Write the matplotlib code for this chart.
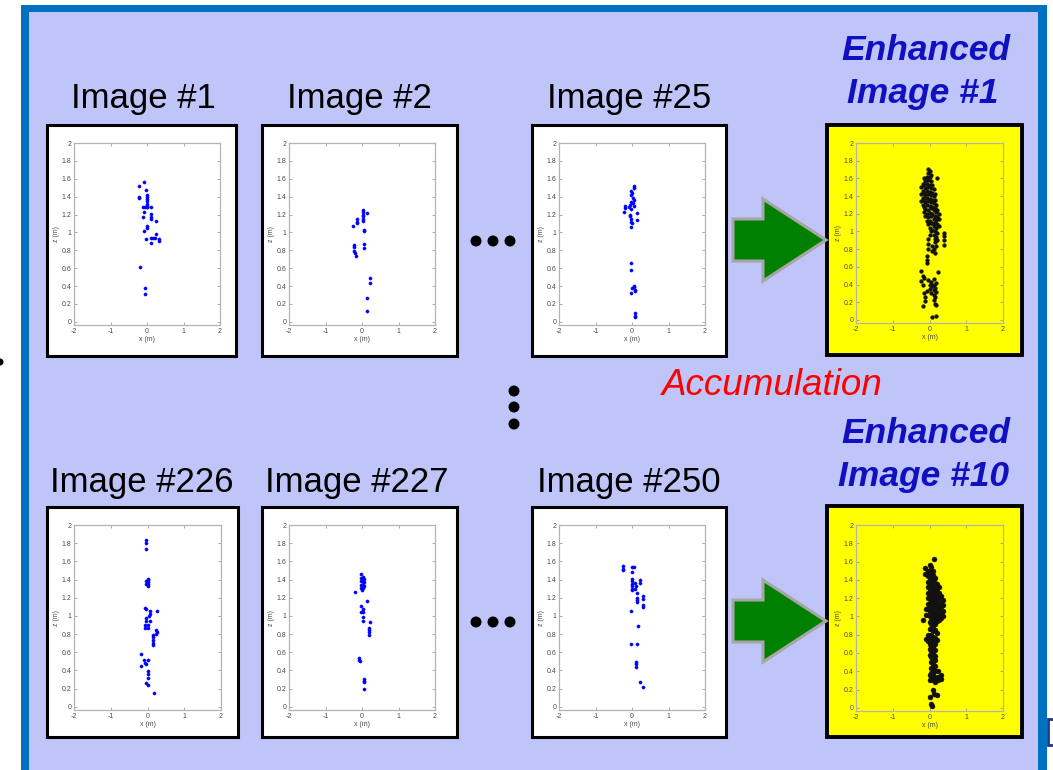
import numpy as np
import matplotlib
matplotlib.use("Agg")
import matplotlib.pyplot as plt
from matplotlib.patches import Rectangle, Polygon, Circle

# ---------------------------------------------------------------------------
# Point clouds (x, z) in metres for each single radar image
# ---------------------------------------------------------------------------
IMG1 = [(-0.22, 1.52), (-0.08, 1.56), (-0.03, 1.48), (-0.23, 1.40), (-0.22, 1.38),
        (0.00, 1.42), (0.00, 1.40), (0.00, 1.37), (0.01, 1.35), (0.00, 1.32),
        (0.00, 1.30), (0.00, 1.28), (-0.10, 1.28), (-0.06, 1.28), (0.01, 1.28),
        (0.10, 1.28), (-0.08, 1.23), (0.10, 1.21), (0.10, 1.17), (0.10, 1.15),
        (-0.10, 1.17), (0.26, 1.13), (0.00, 1.07), (0.00, 1.05), (-0.09, 1.02),
        (0.26, 0.98), (0.10, 0.94), (0.17, 0.94), (0.22, 0.94), (0.32, 0.93),
        (0.33, 0.90), (-0.03, 0.93), (0.11, 0.88), (-0.19, 0.61), (-0.06, 0.38),
        (-0.06, 0.31)]

IMG2 = [(0.04, 1.25), (0.04, 1.23), (0.04, 1.20), (0.04, 1.18), (0.04, 1.15),
        (0.04, 1.13), (0.15, 1.22), (-0.15, 1.15), (-0.15, 1.12), (-0.14, 1.10),
        (-0.24, 1.07), (0.06, 1.03), (0.06, 1.02), (-0.21, 0.86), (-0.21, 0.84),
        (-0.21, 0.79), (-0.19, 0.77), (-0.17, 0.74), (0.06, 0.87), (0.06, 0.83),
        (0.22, 0.49), (0.22, 0.44), (0.13, 0.27), (0.15, 0.12)]

IMG25 = [(0.05, 1.52), (0.05, 1.50), (-0.03, 1.46), (0.00, 1.44), (-0.03, 1.42),
         (0.03, 1.38), (0.06, 1.36), (0.03, 1.33), (0.05, 1.30), (-0.04, 1.34),
         (-0.06, 1.31), (-0.08, 1.28), (-0.03, 1.26), (-0.20, 1.30), (-0.20, 1.27),
         (-0.21, 1.23), (-0.05, 1.20), (-0.05, 1.18), (-0.03, 1.15), (-0.03, 1.12),
         (-0.01, 1.10), (-0.03, 1.06), (0.15, 1.22), (0.15, 1.14), (-0.04, 0.66),
         (-0.04, 0.58), (-0.01, 0.38), (0.05, 0.40), (0.08, 0.36), (-0.03, 0.32),
         (0.08, 0.34), (0.06, 0.39), (0.07, 0.10), (0.08, 0.07), (0.08, 0.05)]

IMG226 = [(-0.04, 1.83), (-0.04, 1.80), (-0.04, 1.74), (0.01, 1.41), (0.01, 1.39),
          (0.01, 1.37), (0.01, 1.35), (0.01, 1.33), (-0.03, 1.38), (-0.03, 1.35),
          (-0.07, 1.09), (-0.05, 1.08), (0.06, 1.05), (0.06, 1.02), (0.03, 1.00),
          (0.25, 1.05), (-0.03, 0.98), (-0.05, 0.94), (-0.06, 0.90), (-0.06, 0.87),
          (0.01, 0.90), (0.01, 0.87), (0.06, 0.94), (0.22, 0.84), (0.25, 0.82),
          (0.22, 0.80), (0.16, 0.79), (0.16, 0.77), (0.15, 0.73), (0.15, 0.70),
          (0.15, 0.68), (-0.19, 0.58), (-0.10, 0.51), (0.01, 0.51), (-0.03, 0.47),
          (-0.17, 0.45), (-0.08, 0.48), (0.00, 0.39), (0.00, 0.36), (0.00, 0.32),
          (-0.03, 0.26), (0.00, 0.24), (0.17, 0.15)]

IMG227 = [(-0.04, 1.46), (-0.04, 1.42), (-0.04, 1.38), (-0.04, 1.34), (-0.04, 1.31),
          (0.02, 1.43), (0.02, 1.39), (0.02, 1.35), (0.02, 1.31), (0.05, 1.41),
          (0.05, 1.37), (0.05, 1.33), (-0.01, 1.29), (-0.18, 1.26), (0.15, 1.16),
          (-0.04, 1.11), (0.02, 1.08), (-0.04, 1.04), (0.02, 1.04), (0.02, 0.99),
          (0.02, 0.94), (0.21, 0.93), (0.20, 0.87), (0.20, 0.84), (0.20, 0.82),
          (0.20, 0.79), (-0.07, 0.54), (-0.07, 0.51), (-0.06, 0.50), (0.05, 0.31),
          (0.05, 0.28), (0.05, 0.27), (0.05, 0.20)]

IMG250 = [(-0.26, 1.55), (-0.26, 1.52), (-0.26, 1.50), (0.00, 1.54), (0.05, 1.54),
          (0.00, 1.48), (0.00, 1.41), (0.00, 1.38), (0.00, 1.35), (-0.01, 1.33),
          (0.00, 1.30), (0.00, 1.28), (0.08, 1.36), (0.10, 1.33), (0.07, 1.30),
          (0.22, 1.40), (0.22, 1.36), (0.15, 1.25), (0.15, 1.20), (0.15, 1.17),
          (0.15, 1.15), (0.31, 1.22), (0.31, 1.19), (0.31, 1.12), (0.31, 1.10),
          (-0.03, 1.05), (0.17, 0.89), (-0.03, 0.69), (0.14, 0.69), (0.11, 0.49),
          (0.11, 0.47), (0.11, 0.44), (0.22, 0.27), (0.31, 0.22)]

# Accumulated clouds, stored as vertical strips: (x, [z, z, ...])
ENH1_STRIPS = [
    (-0.22, [1.34, 1.42, 1.50, 0.55, 0.44]),
    (-0.18, [1.30, 1.38, 1.46, 1.54, 0.50, 0.40, 0.16]),
    (-0.14, [1.22, 1.28, 1.36, 1.44, 1.52, 1.60, 0.47, 0.30]),
    (-0.11, [1.18, 1.25, 1.33, 1.41, 1.49, 1.57, 0.26, 0.21]),
    (-0.08, [1.12, 1.20, 1.30, 1.38, 1.46, 1.54, 1.62, 0.72, 0.68, 0.64, 0.33]),
    (-0.04, [1.08, 1.16, 1.24, 1.34, 1.42, 1.50, 1.58, 1.66, 1.71, 0.92, 0.86,
             0.80, 0.45]),
    (0.00, [1.04, 1.12, 1.21, 1.29, 1.37, 1.45, 1.53, 1.61, 1.68, 0.96, 0.40, 0.35]),
    (0.03, [1.00, 1.09, 1.18, 1.26, 1.33, 1.41, 1.49, 1.57, 1.64, 0.43, 0.30]),
    (0.07, [1.02, 1.10, 1.20, 1.28, 1.36, 1.44, 1.52, 0.84, 0.78, 0.38, 0.03]),
    (0.11, [0.96, 1.06, 1.14, 1.24, 1.32, 1.40, 1.48, 0.80, 0.46, 0.40, 0.34,
            0.28, 0.22]),
    (0.14, [0.92, 1.00, 1.10, 1.18, 1.27, 1.35, 1.42, 0.88, 0.76, 0.36, 0.26, 0.18]),
    (0.18, [0.94, 1.04, 1.13, 1.22, 1.30, 0.84, 0.42, 0.32, 0.17, 0.04]),
    (0.21, [0.90, 0.98, 1.08, 1.16, 1.24, 1.60]),
    (0.23, [0.54]),
    (0.26, [1.06, 1.14, 1.20]),
    (0.40, [0.85, 0.90, 0.95, 0.98]),
]

ENH10_STRIPS = [
    (-0.18, [0.96]),
    (-0.12, [1.53, 1.46]),
    (-0.10, [1.08, 1.02, 0.75]),
    (-0.05, [1.50, 1.44, 1.38, 1.32, 1.26, 1.20, 1.14, 1.08, 0.80, 0.73]),
    (0.00, [1.56, 1.50, 1.45, 1.40, 1.35, 1.30, 1.25, 1.20, 1.15, 1.10, 1.05,
            1.00, 0.94, 0.86, 0.78, 0.70, 0.64, 0.58, 0.36, 0.30]),
    (0.02, [0.12]),
    (0.05, [1.54, 1.48, 1.43, 1.38, 1.33, 1.28, 1.23, 1.18, 1.13, 1.08, 1.03,
            0.98, 0.92, 0.86, 0.80, 0.74, 0.68, 0.62, 0.56, 0.50, 0.44, 0.38,
            0.32, 0.04]),
    (0.08, [0.02]),
    (0.10, [1.50, 1.45, 1.40, 1.35, 1.30, 1.25, 1.20, 1.15, 1.10, 1.05, 1.00,
            0.95, 0.90, 0.84, 0.78, 0.72, 0.66, 0.60, 0.54, 0.48, 0.42, 0.36,
            0.30, 0.20]),
    (0.11, [1.63]),
    (0.13, [0.15]),
    (0.15, [1.42, 1.37, 1.32, 1.27, 1.22, 1.17, 1.12, 1.07, 1.02, 0.97, 0.92,
            0.85, 0.76, 0.70, 0.63, 0.57, 0.52, 0.46, 0.40, 0.34, 0.28]),
    (0.20, [1.35, 1.30, 1.25, 1.20, 1.15, 1.10, 1.05, 1.00, 0.95, 0.82, 0.74,
            0.14]),
    (0.22, [0.40, 0.34, 0.30]),
    (0.25, [1.32, 1.26, 1.20, 1.14, 1.08, 1.02, 0.96]),
    (0.30, [1.22, 1.16, 1.10, 1.04, 0.98, 0.36, 0.32]),
    (0.38, [1.18, 1.12, 1.06, 1.00]),
]

X_TICKS = [-2, -1, 0, 1, 2]
X_TICK_LABELS = ["-2", "-1", "0", "1", "2"]
Z_TICKS = [0, 0.2, 0.4, 0.6, 0.8, 1.0, 1.2, 1.4, 1.6, 1.8, 2.0]
Z_TICK_LABELS = ["0", "0.2", "0.4", "0.6", "0.8", "1", "1.2", "1.4", "1.6", "1.8", "2"]

TITLES_TOP = ["Image #1", "Image #2", "Image #25"]
TITLES_BOTTOM = ["Image #226", "Image #227", "Image #250"]
ENH_TITLES = ["Enhanced\nImage #1", "Enhanced\nImage #10"]
ACCUM_LABEL = "Accumulation"

# ---------------------------------------------------------------------------
# Canvas
# ---------------------------------------------------------------------------
W, H = 1053, 770
FONT = "Liberation Sans"
plt.rcParams["font.family"] = [FONT, "DejaVu Sans"]

fig = plt.figure(figsize=(W / 100, H / 100), dpi=100)
fig.patch.set_facecolor("white")

bg = fig.add_axes([0, 0, 1, 1], zorder=0)
bg.set_xlim(0, W)
bg.set_ylim(H, 0)
bg.axis("off")

# slide frame
bg.add_patch(Rectangle((21, 5), 1026, 800, fc="#0070C0", ec="none"))
bg.add_patch(Rectangle((29, 12), 1009, 800, fc="#C0C5F9", ec="none"))
# cut-off items at the slide edges
bg.add_patch(Circle((0, 362), 3.5, fc="black", ec="none"))
bg.add_patch(Rectangle((1048, 719), 20, 26, fc="white", ec="#1F3A8A", lw=2.0))


def px_axes(l, t, r, b):
    return fig.add_axes([l / W, 1 - b / H, (r - l) / W, (b - t) / H], zorder=2)


def style_axes(ax, face):
    ax.set_facecolor(face)
    ax.set_xlim(-2, 2)
    ax.set_ylim(-0.035, 2)
    ax.set_xticks(X_TICKS)
    ax.set_xticklabels(X_TICK_LABELS)
    ax.set_yticks(Z_TICKS)
    ax.set_yticklabels(Z_TICK_LABELS)
    ax.tick_params(direction="in", length=2, width=0.5, colors="#8c8c8c",
                   labelcolor="#4a4a4a", labelsize=5, top=True, right=True, pad=2)
    for s in ax.spines.values():
        s.set_color("#b4b4b4")
        s.set_linewidth(0.9)
    ax.set_xlabel("x (m)", fontsize=5, color="#4a4a4a", labelpad=1)
    ax.set_ylabel("z (m)", fontsize=5, color="#4a4a4a", labelpad=1)


def draw_panel(frame, axbox, pts, face, color, msize, frame_lw):
    l, t, r, b = frame
    bg.add_patch(Rectangle((l, t), r - l, b - t, fc=face, ec="black", lw=frame_lw))
    ax = px_axes(*axbox)
    style_axes(ax, "none")
    arr = np.array(pts)
    ax.plot(arr[:, 0], arr[:, 1], "o", ms=msize, mfc=color, mec=color, mew=0.3,
            ls="none")
    return ax


def strips_to_points(strips):
    return [(x, z) for x, zs in strips for z in zs]


# single images, top row and bottom row
row_frames = [
    [(47, 125, 236, 356), (262, 125, 457, 356), (532, 125, 726, 356)],
    [(47, 507, 238, 737), (262, 507, 457, 737), (532, 507, 726, 737)],
]
row_axes = [
    [(74, 143, 220, 325), (289, 143, 435, 325), (559, 143, 705, 325)],
    [(74, 525, 221, 710), (289, 525, 435, 710), (559, 525, 705, 710)],
]
row_data = [[IMG1, IMG2, IMG25], [IMG226, IMG227, IMG250]]
for frames, boxes, datas in zip(row_frames, row_axes, row_data):
    for fr, bx, d in zip(frames, boxes, datas):
        draw_panel(fr, bx, d, "white", "#0000FF", 2.3, 2.2)

# accumulated images
draw_panel((827, 125, 1022, 355), (856, 143, 1003, 323),
           strips_to_points(ENH1_STRIPS), "#FFFF00", "#111111", 2.7, 2.8)
draw_panel((827, 506, 1022, 737), (856, 525, 1003, 711),
           strips_to_points(ENH10_STRIPS), "#FFFF00", "#111111", 3.6, 2.8)

# titles
for cx, txt in zip([143, 359, 629], TITLES_TOP):
    bg.text(cx, 108, txt, fontsize=25, ha="center", va="baseline", color="black")
for cx, txt in zip([142, 357, 629], TITLES_BOTTOM):
    bg.text(cx, 492, txt, fontsize=25, ha="center", va="baseline", color="black")

for (cy1, cy2), txt in zip([(60, 103), (443, 486)], ENH_TITLES):
    l1, l2 = txt.split("\n")
    bg.text(926, cy1, l1, fontsize=25.5, ha="center", va="baseline",
            color="#1010C0", fontweight="bold", fontstyle="italic")
    bg.text(923, cy2, l2, fontsize=25.5, ha="center", va="baseline",
            color="#1010C0", fontweight="bold", fontstyle="italic")

bg.text(772, 395, ACCUM_LABEL, fontsize=26.5, ha="center", va="baseline",
        color="#FF0000", fontstyle="italic")

# ellipsis dots
for cy in (241, 622):
    for cx in (476, 493, 510):
        bg.add_patch(Circle((cx, cy), 5.5, fc="black", ec="none"))
for cy in (391, 407, 424):
    bg.add_patch(Circle((514, cy), 5.5, fc="black", ec="none"))

# green block arrows
for yc in (240, 621):
    shape = [(733, yc - 21), (763, yc - 21), (763, yc - 41), (826, yc),
             (763, yc + 41), (763, yc + 21), (733, yc + 21)]
    bg.add_patch(Polygon(shape, closed=True, fc="#008000", ec="#A6A6A6",
                         lw=2.2, joinstyle="miter"))

fig.savefig("out.png", dpi=100, facecolor=fig.get_facecolor())
